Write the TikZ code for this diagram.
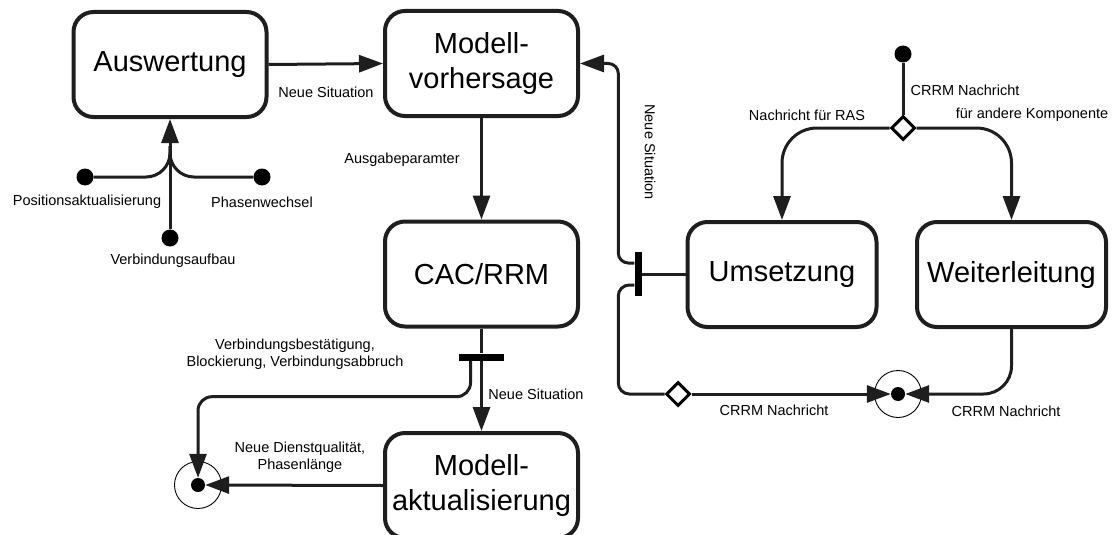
\documentclass[tikz,border=0pt]{standalone}
\usepackage{fontspec}
\setmainfont{Liberation Sans}
\usetikzlibrary{arrows.meta,shapes.geometric}
\definecolor{linec}{HTML}{1E1E1E}
\tikzset{
  box/.style={draw=linec, line width=4pt, rounded corners=20pt, inner sep=0pt,
    minimum width=193pt, minimum height=105pt, align=center,
    font=\fontsize{29}{35}\selectfont},
  conn/.style={draw=linec, line width=3pt},
  arr/.style={conn, -{Triangle[length=24pt,width=17pt]}},
  startdot/.style={circle, fill=black, inner sep=0pt, minimum size=17pt},
  ring/.style={circle, draw=black, line width=0.9pt, inner sep=0pt, minimum size=47pt},
  innerdot/.style={circle, fill=black, inner sep=0pt, minimum size=14pt},
  choice/.style={diamond, draw=black, line width=3pt, fill=white, inner sep=0pt,
    minimum width=24pt, minimum height=24pt},
  barv/.style={rectangle, fill=black, inner sep=0pt, minimum width=7pt, minimum height=44pt},
  barh/.style={rectangle, fill=black, inner sep=0pt, minimum width=45pt, minimum height=7pt},
  lbl/.style={font=\fontsize{14.5}{17.5}\selectfont, align=center, inner sep=0pt}
}
\begin{document}
\begin{tikzpicture}[x=1pt,y=-1pt]
\useasboundingbox (0,0) rectangle (1116,535);
\clip (0,0) rectangle (1116,535);

% boxes
\node[box] (aus) at (170,64.5) {Auswertung};
\node[box] (mv) at (481.5,63.5) {Modell-\\vorhersage};
\node[box] (cac) at (481.5,274) {CAC/RRM};
\node[box] (ma) at (481.5,485.5) {Modell-\\aktualisierung};
\node[box, minimum width=189pt] (ums) at (782,274.5) {Umsetzung};
\node[box, minimum width=189pt] (wei) at (1011.5,274.5) {Weiterleitung};

% start dots
\node[startdot] (pl) at (85,177) {};
\node[startdot] (pr) at (262,177) {};
\node[startdot] (pb) at (170,238) {};
\node[startdot] (init) at (903,54) {};
\coordinate (jn) at (170,146);

% decisions, bars, finals
\node[choice] (dtop) at (903,128) {};
\node[choice] (dbot) at (678,394) {};
\node[barv] (bar1) at (638,274) {};
\node[barh] (bar2) at (481.5,357) {};
\node[ring] (mrg) at (898,394) {};
\node[innerdot] (mdot) at (898,394) {};
\node[ring] (fin) at (198,485) {};
\node[innerdot] (fdot) at (198,485) {};

% connectors
\draw[arr] (aus.east) -- (mv.west);
\draw[arr] (mv.south) -- (cac.north);
\draw[conn] (cac.south) -- (bar2.north);
\draw[arr] (bar2.south) -- (ma.north);
\draw[arr, rounded corners=14pt] ([xshift=-11pt]bar2.south) -- ++(0,36) -| (fdot.north);
\draw[arr] (ma.west) -- (fdot.east);

\draw[conn, rounded corners=24pt] (pl) -| (jn);
\draw[conn, rounded corners=24pt] (pr) -| (jn);
\draw[arr] (pb) -- (aus.south);

\draw[conn] (init) -- (dtop.north);
\draw[arr, rounded corners=35pt] (dtop.west) -| (ums.north);
\draw[arr, rounded corners=35pt] (dtop.east) -| (wei.north);
\draw[arr, rounded corners=28pt] (wei.south) |- (mdot.east);

\draw[conn] (ums.west) -- (ums.west -| bar1.east);
\draw[arr, rounded corners=10pt] ([yshift=11pt]bar1.west) -- ++(-16,0) |- (mv.east);
\draw[conn, rounded corners=11pt] ([yshift=-11pt]bar1.west) -- ++(-16,0) |- (dbot.west);
\draw[arr] (dbot.east) -- (mdot.west);

% labels
\node[lbl] (l1) at (326,92) {Neue Situation};
\node[lbl] (l2) at (402,160) {Ausgabeparamter};
\node[lbl, rotate=-90] (l3) at (650,152) {Neue Situation};
\node[lbl] (l4) at (87,202) {Positionsaktualisierung};
\node[lbl] (l5) at (262,202) {Phasenwechsel};
\node[lbl] (l6) at (173,261) {Verbindungsaufbau};
\node[lbl] (l7) at (965,90) {CRRM Nachricht};
\node[lbl] (l8) at (807,115) {Nachricht für RAS};
\node[lbl] (l9) at (1032,115) {für andere Komponente};
\node[lbl] (l10) at (774,410) {CRRM Nachricht};
\node[lbl] (l11) at (1006,411) {CRRM Nachricht};
\node[lbl] (l12) at (536,394) {Neue Situation};
\node[lbl] (l13) at (295,354) {Verbindungsbestätigung,\\Blockierung, Verbindungsabbruch};
\node[lbl] (l14) at (300,457) {Neue Dienstqualität,\\Phasenlänge};
\end{tikzpicture}
\end{document}
